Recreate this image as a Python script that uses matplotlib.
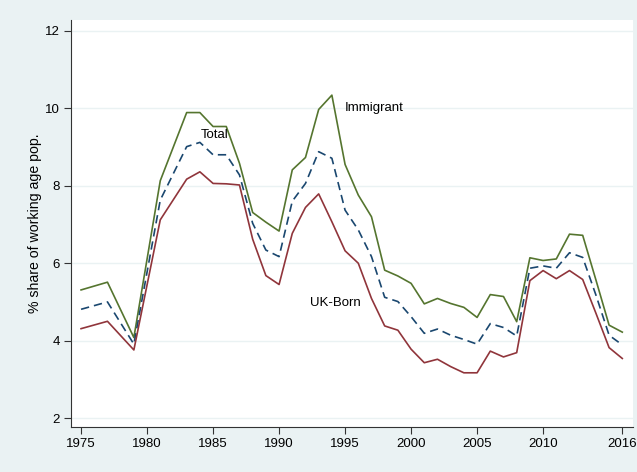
import matplotlib
matplotlib.use('Agg')
import matplotlib.pyplot as plt

plt.rcParams['font.family'] = ['Liberation Sans', 'DejaVu Sans']

# LFS years: biennial to 1983, annual after
years = [1975, 1977, 1979, 1981, 1983] + list(range(1984, 2017))

immigrant = [5.31, 5.51, 4.08, 8.13, 9.89, 9.89, 9.53, 9.53, 8.58, 7.31, 7.06,
             6.83, 8.41, 8.73, 9.97, 10.34, 8.55, 7.76, 7.20, 5.82, 5.67, 5.48,
             4.95, 5.09, 4.96, 4.86, 4.60, 5.19, 5.14, 4.49, 6.14, 6.07, 6.11,
             6.75, 6.72, 5.57, 4.40, 4.22]
total = [4.81, 5.00, 3.91, 7.63, 9.01, 9.12, 8.80, 8.80, 8.28, 7.03, 6.34,
         6.17, 7.60, 8.06, 8.88, 8.71, 7.37, 6.86, 6.17, 5.12, 5.01, 4.62,
         4.19, 4.30, 4.14, 4.03, 3.91, 4.44, 4.34, 4.12, 5.87, 5.93, 5.87,
         6.27, 6.15, 5.18, 4.14, 3.89]
uk_born = [4.31, 4.50, 3.76, 7.12, 8.17, 8.36, 8.06, 8.05, 8.02, 6.62, 5.68,
           5.45, 6.77, 7.44, 7.79, 7.07, 6.32, 6.00, 5.09, 4.38, 4.27, 3.78,
           3.43, 3.52, 3.33, 3.17, 3.17, 3.73, 3.58, 3.69, 5.55, 5.81, 5.60,
           5.81, 5.58, 4.71, 3.82, 3.54]

xticks = [1975, 1980, 1985, 1990, 1995, 2000, 2005, 2010, 2016]
yticks = [2, 4, 6, 8, 10, 12]

bg = '#eaf2f3'
fig = plt.figure(figsize=(6.37, 4.72), dpi=100, facecolor=bg)
ax = fig.add_axes([0.1115, 0.0953, 0.882, 0.8623])
ax.set_facecolor('white')

for y in yticks:
    ax.axhline(y, color=bg, lw=1.0, zorder=0)

ax.plot(years, immigrant, color='#55752f', lw=1.2)
ax.plot(years, total, color='#1a476f', lw=1.2, dashes=(5, 3))
ax.plot(years, uk_born, color='#90353b', lw=1.2)

ax.text(1985.1, 9.31, 'Total', fontsize=9.5, ha='center', va='center')
ax.text(1995.0, 10.0, 'Immigrant', fontsize=9.5, ha='left', va='center')
ax.text(1994.3, 4.96, 'UK-Born', fontsize=9.5, ha='center', va='center')

ax.set_xlim(1974.24, 2016.8)
ax.set_ylim(1.77, 12.28)
ax.set_xticks(xticks)
ax.set_yticks(yticks)
ax.tick_params(axis='both', labelsize=9.5, length=5, width=0.8, color='#333333', pad=3)
ax.set_ylabel('% share of working age pop.', fontsize=10.2, labelpad=2)

for s in ['top', 'right']:
    ax.spines[s].set_visible(False)
for s in ['left', 'bottom']:
    ax.spines[s].set_color('#333333')
    ax.spines[s].set_linewidth(0.8)

fig.savefig('out.png', dpi=100, facecolor=bg)
